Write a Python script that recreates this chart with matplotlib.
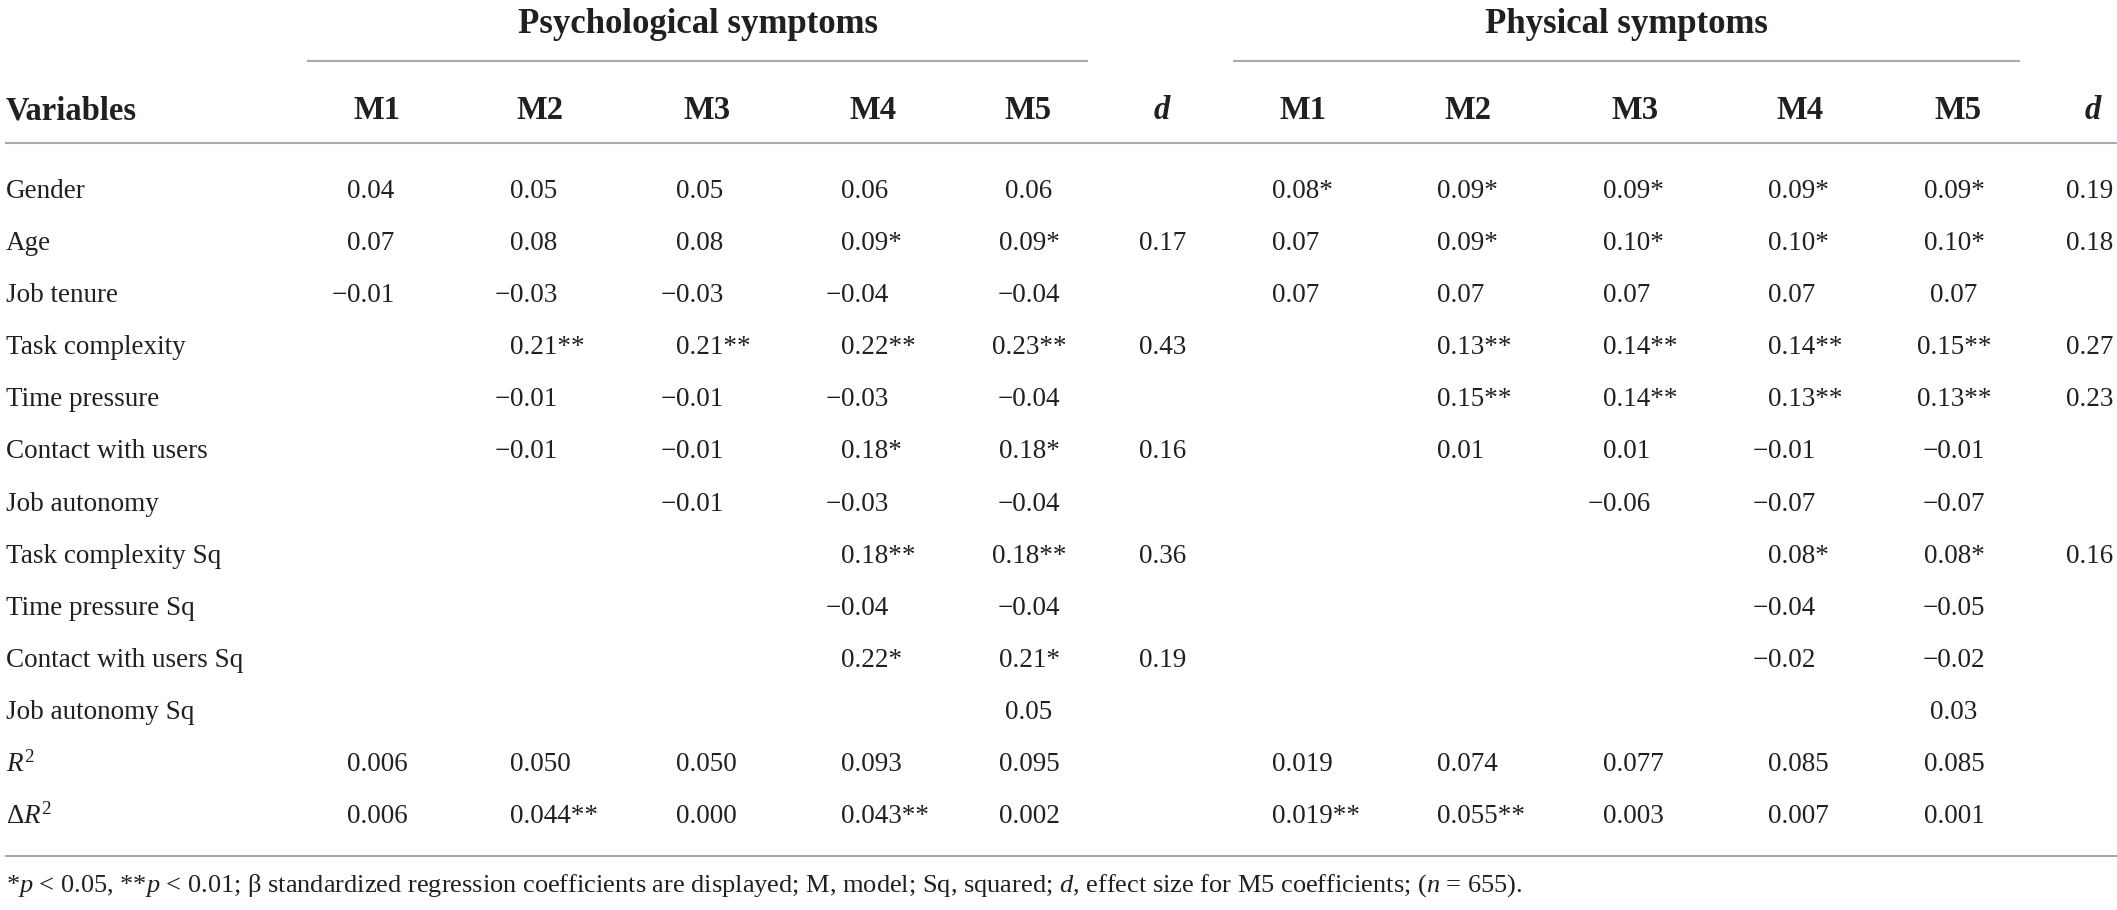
import matplotlib
matplotlib.use("Agg")
from matplotlib import pyplot as plt

plt.rcParams['font.family'] = ['Liberation Serif', 'DejaVu Serif']
plt.rcParams['mathtext.fontset'] = 'custom'
plt.rcParams['mathtext.rm'] = 'Liberation Serif'
plt.rcParams['mathtext.it'] = 'Liberation Serif:italic'
plt.rcParams['mathtext.bf'] = 'Liberation Serif:bold'

# ---- table content ----
variables = ['Gender', 'Age', 'Job tenure', 'Task complexity', 'Time pressure',
             'Contact with users', 'Job autonomy', 'Task complexity Sq',
             'Time pressure Sq', 'Contact with users Sq', 'Job autonomy Sq',
             r'$R^{\mathrm{2}}$', r'Δ$R^{\mathrm{2}}$']

groups = ['Psychological symptoms', 'Physical symptoms']
models = ['M1', 'M2', 'M3', 'M4', 'M5']

psy_m1 = ['0.04', '0.07', '−0.01', '', '', '', '', '', '', '', '', '0.006', '0.006']
psy_m2 = ['0.05', '0.08', '−0.03', '0.21**', '−0.01', '−0.01', '', '', '', '', '', '0.050', '0.044**']
psy_m3 = ['0.05', '0.08', '−0.03', '0.21**', '−0.01', '−0.01', '−0.01', '', '', '', '', '0.050', '0.000']
psy_m4 = ['0.06', '0.09*', '−0.04', '0.22**', '−0.03', '0.18*', '−0.03', '0.18**', '−0.04', '0.22*', '', '0.093', '0.043**']
psy_m5 = ['0.06', '0.09*', '−0.04', '0.23**', '−0.04', '0.18*', '−0.04', '0.18**', '−0.04', '0.21*', '0.05', '0.095', '0.002']
psy_d = ['', '0.17', '', '0.43', '', '0.16', '', '0.36', '', '0.19', '', '', '']

phy_m1 = ['0.08*', '0.07', '0.07', '', '', '', '', '', '', '', '', '0.019', '0.019**']
phy_m2 = ['0.09*', '0.09*', '0.07', '0.13**', '0.15**', '0.01', '', '', '', '', '', '0.074', '0.055**']
phy_m3 = ['0.09*', '0.10*', '0.07', '0.14**', '0.14**', '0.01', '−0.06', '', '', '', '', '0.077', '0.003']
phy_m4 = ['0.09*', '0.10*', '0.07', '0.14**', '0.13**', '−0.01', '−0.07', '0.08*', '−0.04', '−0.02', '', '0.085', '0.007']
phy_m5 = ['0.09*', '0.10*', '0.07', '0.15**', '0.13**', '−0.01', '−0.07', '0.08*', '−0.05', '−0.02', '0.03', '0.085', '0.001']
phy_d = ['0.19', '0.18', '', '0.27', '0.23', '', '', '0.16', '', '', '', '', '']

footnote = (r'*$\mathit{p}$ < 0.05, **$\mathit{p}$ < 0.01; β standardized regression '
            r'coefficients are displayed; M, model; Sq, squared; $\mathit{d}$, effect size '
            r'for M5 coefficients; ($\mathit{n}$ = 655).')

# ---- layout (pixels) ----
W, H = 2117, 910
ink = '#231f20'
rule = '#a7a9ac'

fig = plt.figure(figsize=(W / 100, H / 100), dpi=100)
ax = fig.add_axes([0, 0, 1, 1])
ax.set_xlim(0, W)
ax.set_ylim(H, 0)
ax.axis('off')

body_fs = 19.5
head_fs = 23.5

# column positions: header centre, value anchor, alignment
cols = [
    (psy_m1, 377, 347, 'left'), (psy_m2, 540, 510, 'left'), (psy_m3, 707, 676, 'left'),
    (psy_m4, 873, 841, 'left'), (psy_m5, 1028, 1029, 'center'), (psy_d, 1162, 1139, 'left'),
    (phy_m1, 1303, 1272, 'left'), (phy_m2, 1468, 1437, 'left'), (phy_m3, 1635, 1603, 'left'),
    (phy_m4, 1800, 1768, 'left'), (phy_m5, 1958, 1954, 'center'), (phy_d, 2093, 2066, 'left'),
]
head_labels = models + ['d'] + models + ['d']

# group titles and their rules
for name, x0, x1 in [(groups[0], 307, 1088), (groups[1], 1233, 2020)]:
    ax.text((x0 + x1) / 2, 33, name, ha='center', va='baseline',
            fontsize=head_fs + 1.5, fontweight='bold', color=ink)
    ax.plot([x0, x1], [61, 61], color=rule, lw=1.5, solid_capstyle='butt')

# header row
ax.text(6, 119, 'Variables', ha='left', va='baseline', fontsize=head_fs,
        fontweight='bold', color=ink)
for (vals, hx, vx, al), lab in zip(cols, head_labels):
    ax.text(hx, 119, lab, ha='center', va='baseline', fontsize=head_fs,
            fontweight='bold', fontstyle='italic' if lab == 'd' else 'normal', color=ink)
ax.plot([5, W], [143, 143], color=rule, lw=1.5, solid_capstyle='butt')

# body rows
row_y0, row_step = 198, 52.1
for i, var in enumerate(variables):
    y = row_y0 + i * row_step
    ax.text(6, y, var, ha='left', va='baseline', fontsize=body_fs, color=ink)
    for vals, hx, vx, al in cols:
        v = vals[i]
        if not v:
            continue
        if al == 'center':
            ax.text(vx, y, v, ha='center', va='baseline', fontsize=body_fs, color=ink)
        elif v.startswith('−'):
            ax.text(vx, y, '−', ha='right', va='baseline', fontsize=body_fs, color=ink)
            ax.text(vx, y, v[1:], ha='left', va='baseline', fontsize=body_fs, color=ink)
        else:
            ax.text(vx, y, v, ha='left', va='baseline', fontsize=body_fs, color=ink)

ax.plot([5, W], [856, 856], color=rule, lw=1.5, solid_capstyle='butt')
ax.text(6, 892, footnote, ha='left', va='baseline', fontsize=19, color=ink)

fig.savefig('out.png', dpi=100, facecolor='white')
